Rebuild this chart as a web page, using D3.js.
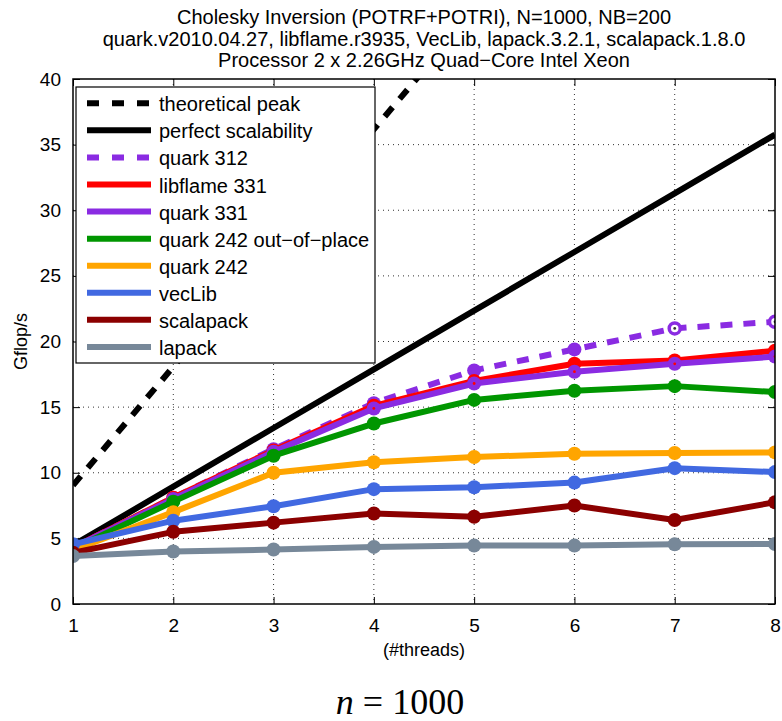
<!DOCTYPE html>
<html>
<head>
<meta charset="utf-8">
<script src="https://cdn.jsdelivr.net/npm/d3@7"></script>
<style>
  html, body { margin: 0; padding: 0; background: #fff; }
  svg { display: block; font-family: "Liberation Sans", Arial, Helvetica, sans-serif; }
</style>
</head>
<body>
<div id="chart"></div>
<script>
// Data
const threads = [1, 2, 3, 4, 5, 6, 7, 8];
const theoreticalPeak = [9.04, 18.08, 27.12, 36.16, 45.2, 54.24, 63.28, 72.32];
const perfectScalability = [4.47, 8.94, 13.41, 17.88, 22.35, 26.82, 31.29, 35.76];
const quark312 = [4.3, 8.1, 11.8, 15.3, 17.8, 19.4, 21.0, 21.5];
const libflame331 = [4.3, 8.1, 11.7, 15.1, 17.0, 18.3, 18.55, 19.3];
const quark331 = [4.3, 8.0, 11.6, 14.9, 16.8, 17.7, 18.3, 18.85];
const quark242oop = [4.2, 7.8, 11.3, 13.75, 15.55, 16.25, 16.6, 16.15];
const quark242 = [4.1, 7.0, 10.0, 10.8, 11.2, 11.45, 11.5, 11.55];
const vecLib = [4.55, 6.35, 7.45, 8.75, 8.9, 9.25, 10.35, 10.05];
const scalapack = [3.9, 5.5, 6.2, 6.9, 6.65, 7.5, 6.4, 7.75];
const lapack = [3.65, 4.0, 4.15, 4.35, 4.45, 4.45, 4.55, 4.57];

const xTicks = [1, 2, 3, 4, 5, 6, 7, 8];
const yTicks = [0, 5, 10, 15, 20, 25, 30, 35, 40];

const titleLines = [
    'Cholesky Inversion (POTRF+POTRI), N=1000, NB=200',
    'quark.v2010.04.27, libflame.r3935, VecLib, lapack.3.2.1, scalapack.1.8.0',
    'Processor 2 x 2.26GHz Quad\u2212Core Intel Xeon'
];

const series = [
    { name: 'theoretical peak', values: theoreticalPeak, color: '#000', dash: '12,11', markers: false },
    { name: 'perfect scalability', values: perfectScalability, color: '#000', dash: null, markers: false },
    { name: 'quark 312', values: quark312, color: '#8a2be2', dash: '12,11', markers: true, open: [7, 8] },
    { name: 'libflame 331', values: libflame331, color: '#ff0000', dash: null, markers: true },
    { name: 'quark 331', values: quark331, color: '#8a2be2', dash: null, markers: true, dot: '#ff0000' },
    { name: 'quark 242 out\u2212of\u2212place', values: quark242oop, color: '#009600', dash: null, markers: true },
    { name: 'quark 242', values: quark242, color: '#ffa500', dash: null, markers: true },
    { name: 'vecLib', values: vecLib, color: '#4169e1', dash: null, markers: true },
    { name: 'scalapack', values: scalapack, color: '#8b0000', dash: null, markers: true },
    { name: 'lapack', values: lapack, color: '#778899', dash: null, markers: true }
];

const width = 782, height = 721;
const plot = { left: 73, right: 775, top: 79, bottom: 604 };

const svg = d3.select('#chart')
    .append('svg')
    .attr('width', width)
    .attr('height', height);

const x = d3.scaleLinear().domain([1, 8]).range([plot.left, plot.right]);
const y = d3.scaleLinear().domain([0, 40]).range([plot.bottom, plot.top]);

svg.append('defs').append('clipPath')
    .attr('id', 'plotclip')
    .append('rect')
    .attr('x', plot.left)
    .attr('y', plot.top)
    .attr('width', plot.right - plot.left)
    .attr('height', plot.bottom - plot.top);

// Dotted grid
const grid = svg.append('g').attr('class', 'grid');
grid.selectAll('line.gx')
    .data(xTicks.slice(1, -1))
    .enter().append('line')
    .attr('x1', d => x(d)).attr('x2', d => x(d))
    .attr('y1', plot.top).attr('y2', plot.bottom)
    .attr('stroke', '#333')
    .attr('stroke-width', 1)
    .attr('stroke-dasharray', '1,4');
grid.selectAll('line.gy')
    .data(yTicks.slice(1, -1))
    .enter().append('line')
    .attr('x1', plot.left).attr('x2', plot.right)
    .attr('y1', d => y(d)).attr('y2', d => y(d))
    .attr('stroke', '#333')
    .attr('stroke-width', 1)
    .attr('stroke-dasharray', '1,4');

// Axes (MATLAB style: ticks inward, on all four sides)
const tickLen = 7;
const xAxisB = d3.axisBottom(x).tickValues(xTicks).tickFormat(d3.format('d'))
    .tickSizeInner(-tickLen).tickSizeOuter(0).tickPadding(tickLen + 8);
const xAxisT = d3.axisTop(x).tickValues(xTicks).tickSizeInner(-tickLen).tickSizeOuter(0).tickFormat('');
const yAxisL = d3.axisLeft(y).tickValues(yTicks).tickFormat(d3.format('d'))
    .tickSizeInner(-tickLen).tickSizeOuter(0).tickPadding(tickLen + 5);
const yAxisR = d3.axisRight(y).tickValues(yTicks).tickSizeInner(-tickLen).tickSizeOuter(0).tickFormat('');

const axes = svg.append('g').attr('class', 'axes');
axes.append('g').attr('transform', `translate(0,${plot.bottom})`).call(xAxisB);
axes.append('g').attr('transform', `translate(0,${plot.top})`).call(xAxisT);
axes.append('g').attr('transform', `translate(${plot.left},0)`).call(yAxisL);
axes.append('g').attr('transform', `translate(${plot.right},0)`).call(yAxisR);

axes.selectAll('.domain').remove();
axes.selectAll('.tick line').attr('stroke', '#000').attr('stroke-width', 1);
axes.selectAll('.tick text')
    .attr('fill', '#000')
    .style('font-family', '"Liberation Sans", Arial, sans-serif')
    .style('font-size', '19px');

// Lines and markers
const line = d3.line()
    .x((d, i) => x(threads[i]))
    .y(d => y(d));

const lines = svg.append('g').attr('clip-path', 'url(#plotclip)');

series.forEach(s => {
    lines.append('path')
        .datum(s.values)
        .attr('fill', 'none')
        .attr('stroke', s.color)
        .attr('stroke-width', 6)
        .attr('stroke-linejoin', 'round')
        .attr('stroke-dasharray', s.dash)
        .attr('d', line);

    if (s.markers) {
        s.values.forEach((v, i) => {
            const isOpen = s.open && s.open.includes(threads[i]);
            lines.append('circle')
                .attr('cx', x(threads[i]))
                .attr('cy', y(v))
                .attr('r', isOpen ? 5.5 : 7)
                .attr('fill', isOpen ? '#fff' : s.color)
                .attr('stroke', isOpen ? s.color : 'none')
                .attr('stroke-width', isOpen ? 3.5 : 0);
            if (isOpen || s.dot) {
                lines.append('circle')
                    .attr('cx', x(threads[i]))
                    .attr('cy', y(v))
                    .attr('r', 1.4)
                    .attr('fill', s.dot || '#333');
            }
        });
    }
});

// Axis box on top
svg.append('rect')
    .attr('x', plot.left)
    .attr('y', plot.top)
    .attr('width', plot.right - plot.left)
    .attr('height', plot.bottom - plot.top)
    .attr('fill', 'none')
    .attr('stroke', '#000')
    .attr('stroke-width', 1.5);

// Legend
const legend = svg.append('g').attr('class', 'legend');
legend.append('rect')
    .attr('x', 76).attr('y', 87)
    .attr('width', 299).attr('height', 276)
    .attr('fill', '#fff')
    .attr('stroke', '#000')
    .attr('stroke-width', 1.2);

const entry = legend.selectAll('g.entry')
    .data(series)
    .enter().append('g')
    .attr('class', 'entry')
    .attr('transform', (d, i) => `translate(0,${103.3 + i * 27.07})`);

entry.append('line')
    .attr('x1', 87).attr('x2', 151)
    .attr('y1', 0).attr('y2', 0)
    .attr('stroke', d => d.color)
    .attr('stroke-width', 6)
    .attr('stroke-dasharray', d => d.dash ? '12,13' : null);

entry.append('text')
    .attr('x', 159)
    .attr('y', 1)
    .attr('dy', '0.35em')
    .attr('fill', '#000')
    .style('font-size', '20px')
    .text(d => d.name);

// Title
svg.append('g').selectAll('text')
    .data(titleLines)
    .enter().append('text')
    .attr('x', (plot.left + plot.right) / 2)
    .attr('y', (d, i) => 17 + i * 21.7)
    .attr('dy', '0.35em')
    .attr('text-anchor', 'middle')
    .attr('fill', '#000')
    .style('font-size', '20px')
    .text(d => d);

// Axis labels
svg.append('text')
    .attr('x', (plot.left + plot.right) / 2)
    .attr('y', 650)
    .attr('dy', '0.35em')
    .attr('text-anchor', 'middle')
    .style('font-size', '18px')
    .text('(#threads)');

svg.append('text')
    .attr('transform', `translate(21,${(plot.top + plot.bottom) / 2}) rotate(-90)`)
    .attr('dy', '0.35em')
    .attr('text-anchor', 'middle')
    .style('font-size', '18px')
    .text('Gflop/s');

// Caption below the chart
const caption = svg.append('text')
    .attr('x', 400)
    .attr('y', 714)
    .attr('text-anchor', 'middle')
    .style('font-family', '"Liberation Serif", "Times New Roman", serif')
    .style('font-size', '36px');
caption.append('tspan').style('font-style', 'italic').text('n');
caption.append('tspan').text(' = 1000');
</script>
</body>
</html>
